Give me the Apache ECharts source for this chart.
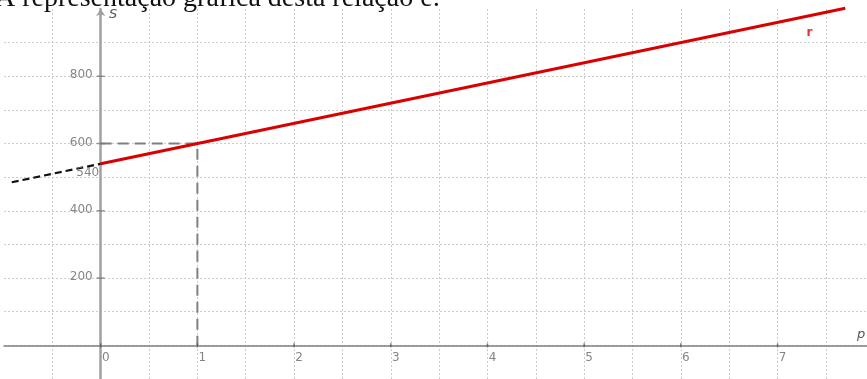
<!DOCTYPE html>
<html>
<head>
<meta charset="utf-8">
<script src="https://cdn.jsdelivr.net/npm/echarts@6/dist/echarts.min.js"></script>
<style>html,body{margin:0;padding:0;background:#fff}#c{width:867px;height:379px}</style>
</head>
<body>
<div id="c"></div>
<script>
// Data
var xTickLabels = [0, 1, 2, 3, 4, 5, 6, 7];
var yTickLabels = [200, 400, 600, 800];
var redLine = [[0, 540], [7.7, 1002]];          // S = 540 + 60 p
var blackDashed = [[-0.92, 485], [0, 540]];
var guideDashed = [[0, 600], [1, 600], [1, 0]];
var interceptLabel = [[0, 540]];
var lineNameLabel = [[7.33, 928]];
var captionText = 'A representação gráfica desta relação é:';

var chart = echarts.init(document.getElementById('c'), null, {renderer: 'canvas'});
var gridColor = '#cccccc';
var axisColor = '#a0a0a0';
var labelColor = '#666';
var tickFont = {color: labelColor, fontFamily: 'DejaVu Sans', fontSize: 12};

chart.setOption({
  animation: false,
  backgroundColor: '#fff',
  grid: {left: 4, right: 0, top: 9, bottom: 0, containLabel: false, outerBoundsMode: 'none'},
  xAxis: {
    type: 'value', min: -1, max: 7.925, interval: 0.5,
    axisLine: {onZero: true, lineStyle: {color: '#808080', width: 1.5}},
    axisTick: {show: false},
    axisLabel: {show: false},
    splitLine: {show: true, showMinLine: false, showMaxLine: false,
      lineStyle: {color: gridColor, type: [2, 2], width: 1}}
  },
  yAxis: {
    type: 'value', min: -100, max: 1000, interval: 100,
    axisLine: {onZero: true, symbol: ['none', 'arrow'], symbolSize: [7, 7],
      lineStyle: {color: axisColor, width: 2.5}},
    axisTick: {show: false},
    axisLabel: {show: false},
    splitLine: {show: true, showMinLine: false, showMaxLine: false,
      lineStyle: {color: gridColor, type: [2, 2], width: 1}}
  },
  graphic: [
    {type: 'text', left: -5, top: -15, z: 100,
      style: {text: captionText, font: '28px "Liberation Serif"', fill: '#111'}},
    {type: 'text', left: 857, top: 328, z: 100,
      style: {text: 'p', font: 'italic 13px "DejaVu Sans"', fill: '#555'}},
    {type: 'text', left: 109, top: 8, z: 100,
      style: {text: 'S', font: 'italic 13px "DejaVu Sans"', fill: '#555'}}
  ],
  series: [
    {type: 'line', data: guideDashed, symbol: 'none', clip: false,
      lineStyle: {color: '#808080', width: 2, type: [11, 6]}, z: 3},
    {type: 'line', data: blackDashed, symbol: 'none', clip: false,
      lineStyle: {color: '#111', width: 2.2, type: [7, 4]}, z: 4},
    {type: 'line', data: redLine, symbol: 'none', clip: false,
      lineStyle: {color: '#d90000', width: 3}, z: 5},
    // x tick marks + labels
    {type: 'scatter', data: xTickLabels.map(function (v) { return [v, 0]; }),
      symbol: 'rect', symbolSize: [1.5, 4], itemStyle: {color: '#555'}, silent: true, z: 6,
      label: Object.assign({show: true, position: 'bottom', distance: 5, offset: [5, 0],
        formatter: function (p) { return String(p.value[0]); }}, tickFont)},
    // y tick marks + labels
    {type: 'scatter', data: yTickLabels.map(function (v) { return [0, v]; }),
      symbol: 'rect', symbolSize: [8, 1.5], itemStyle: {color: '#777'}, silent: true, z: 6,
      label: Object.assign({show: true, position: 'left', distance: 4, offset: [0, -1],
        formatter: function (p) { return String(p.value[1]); }}, tickFont)},
    {type: 'scatter', data: interceptLabel, symbolSize: 0, silent: true, z: 6,
      label: Object.assign({show: true, formatter: '540', position: 'inside', offset: [-13, 9]}, tickFont)},
    {type: 'scatter', data: lineNameLabel, symbolSize: 0, silent: true, z: 6,
      label: {show: true, formatter: 'r', position: 'inside',
        color: '#d90000', fontFamily: 'DejaVu Sans', fontSize: 12, fontWeight: 'bold'}}
  ]
});
</script>
</body>
</html>
